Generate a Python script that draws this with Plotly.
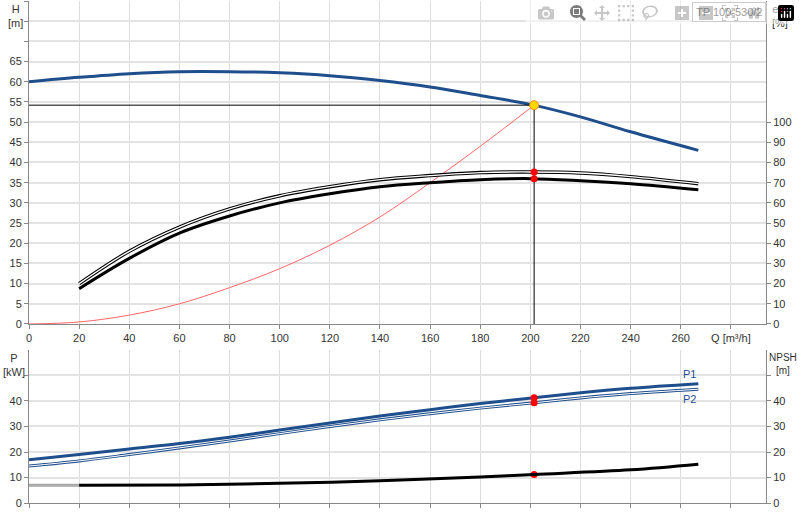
import plotly.graph_objects as go

Q_H = [0, 20, 40, 60, 80, 100, 120, 140, 160, 180, 200, 220, 240, 267]
H = [60, 61.1, 62, 62.5, 62.5, 62.2, 61.5, 60.3, 58.7, 56.6, 54.4, 51.3, 47.6, 43]
Q_eta = [20, 40, 60, 80, 100, 120, 140, 160, 180, 200, 220, 240, 267]
eta_up = [20, 36, 48, 57, 63.5, 68, 71.5, 73.5, 75, 75.3, 74.8, 73, 69.5]
eta_lo = [17.5, 32.5, 45, 53.5, 60, 64.5, 68, 70, 71.5, 72, 71, 69.5, 66.5]
Q_sys = [0, 20, 40, 60, 80, 100, 120, 140, 160, 180, 201.5]
H_sys = [0, 0.5, 2.2, 5, 9, 13.7, 19.5, 26.5, 35, 44, 54.2]
Q_P = [0, 20, 40, 60, 80, 100, 120, 140, 160, 180, 201.5, 220, 240, 267]
P1 = [17, 19, 21.2, 23.3, 25.8, 28.6, 31.4, 34.1, 36.6, 39, 41.3, 43.2, 45, 46.8]
P2 = [14.5, 16.5, 19, 21.6, 24.3, 27.2, 30, 32.6, 35, 37.2, 39.3, 41.2, 42.9, 44.6]
Q_N = [20, 60, 100, 140, 180, 201.5, 240, 267]
NPSH = [7, 7.1, 7.7, 8.7, 10.2, 11.2, 13, 15.2]
Q_duty, H_duty = 201.5, 54.2
eta_duty = [75.3, 72]
P_duty = [41.3, 39.3]
NPSH_duty = 11.2
x_ticks = list(range(0, 281, 20))
x_text = [str(v) for v in range(0, 261, 20)] + ["Q [m³/h]"]

blue = "#1f4e8c"
fig = go.Figure()
# top
fig.add_trace(go.Scatter(x=Q_H, y=H, mode="lines", line=dict(color=blue, width=3, shape="spline"), xaxis="x", yaxis="y"))
fig.add_trace(go.Scatter(x=Q_sys, y=H_sys, mode="lines", line=dict(color="#ff6666", width=1, shape="spline"), xaxis="x", yaxis="y"))
fig.add_trace(go.Scatter(x=[0, Q_duty, Q_duty], y=[H_duty, H_duty, 0], mode="lines", line=dict(color="black", width=1), xaxis="x", yaxis="y"))
fig.add_trace(go.Scatter(x=Q_eta, y=eta_up, mode="lines", line=dict(color="black", width=3.5, shape="spline"), xaxis="x", yaxis="y2"))
fig.add_trace(go.Scatter(x=Q_eta, y=eta_up, mode="lines", line=dict(color="white", width=1.3, shape="spline"), xaxis="x", yaxis="y2"))
fig.add_trace(go.Scatter(x=Q_eta, y=eta_lo, mode="lines", line=dict(color="black", width=3, shape="spline"), xaxis="x", yaxis="y2"))
fig.add_trace(go.Scatter(x=[Q_duty, Q_duty], y=eta_duty, mode="markers", marker=dict(color="red", size=7), xaxis="x", yaxis="y2"))
fig.add_trace(go.Scatter(x=[Q_duty], y=[H_duty], mode="markers", marker=dict(color="#ffd700", size=9, line=dict(color="#ff8c00", width=1)), xaxis="x", yaxis="y"))
# bottom
fig.add_trace(go.Scatter(x=Q_P, y=P1, mode="lines", line=dict(color=blue, width=3, shape="spline"), xaxis="x2", yaxis="y3"))
fig.add_trace(go.Scatter(x=Q_P, y=P2, mode="lines", line=dict(color=blue, width=3, shape="spline"), xaxis="x2", yaxis="y3"))
fig.add_trace(go.Scatter(x=Q_P, y=P2, mode="lines", line=dict(color="white", width=1, shape="spline"), xaxis="x2", yaxis="y3"))
fig.add_trace(go.Scatter(x=[0, Q_N[0]], y=[NPSH[0], NPSH[0]], mode="lines", line=dict(color="#aaaaaa", width=3), xaxis="x2", yaxis="y4"))
fig.add_trace(go.Scatter(x=Q_N, y=NPSH, mode="lines", line=dict(color="black", width=3, shape="spline"), xaxis="x2", yaxis="y4"))
fig.add_trace(go.Scatter(x=[Q_duty, Q_duty, Q_duty], y=P_duty + [NPSH_duty], mode="markers", marker=dict(color="red", size=7), xaxis="x2", yaxis="y3"))

grid = dict(showgrid=True, gridcolor="#dcdcdc", zeroline=False, ticks="outside", ticklen=4, tickcolor="#888",
            linecolor="#888", showline=True, tickfont=dict(family="Liberation Sans", size=11, color="#333"))
hgrid = dict(grid, gridwidth=2, gridcolor="#e3e3e3")
fig.update_layout(
    width=800, height=520, showlegend=False, plot_bgcolor="white", paper_bgcolor="white",
    margin=dict(l=29, r=34, t=1, b=17, autoexpand=False),
    xaxis=dict(grid, domain=[0, 1], range=[0, 294], tickvals=x_ticks, ticktext=x_text, anchor="y"),
    yaxis=dict(hgrid, domain=[0.3566, 1], range=[0, 80], tickvals=list(range(0, 81, 5)),
               ticktext=[str(v) if v <= 65 else "" for v in range(0, 81, 5)]),
    yaxis2=dict(grid, overlaying="y", side="right", range=[0, 160], tickvals=list(range(0, 101, 10)), showgrid=False, anchor="x"),
    xaxis2=dict(grid, domain=[0, 1], range=[0, 294], tickvals=x_ticks, showticklabels=False, anchor="y3"),
    yaxis3=dict(hgrid, domain=[0, 0.3048], range=[0, 60], tickvals=[0, 10, 20, 30, 40, 50],
                ticktext=["0", "10", "20", "30", "40", ""], anchor="x2"),
    yaxis4=dict(grid, overlaying="y3", side="right", range=[0, 60], tickvals=[0, 10, 20, 30, 40, 50],
                ticktext=["0", "10", "20", "30", "40", ""], showgrid=False, anchor="x2"),
)
f = dict(family="Liberation Sans", size=11, color="#333")
anns = [
    dict(x=0, y=1, xref="paper", yref="paper", text="H<br>[m]", showarrow=False, xanchor="right", yanchor="top", xshift=-4, font=f),
    dict(x=1, y=1, xref="paper", yref="paper", text="eta<br>[%]", showarrow=False, xanchor="left", yanchor="top", xshift=4, font=f),
    dict(x=1, y=0.998, xref="paper", yref="paper", text="TP 100-530/2", showarrow=False, xanchor="right", yanchor="top",
         bordercolor="#999", borderwidth=1, bgcolor="white", font=f, borderpad=3),
    dict(x=0, y=0.3048, xref="paper", yref="paper", text="P<br>[kW]", showarrow=False, xanchor="right", yanchor="top", xshift=-2, font=f),
    dict(x=1, y=0.3048, xref="paper", yref="paper", text="NPSH<br>[m]", showarrow=False, xanchor="left", yanchor="top", xshift=1, font=dict(f, size=10)),
    dict(x=267, y=P1[-1], xref="x2", yref="y3", text="P1", showarrow=False, xanchor="right", yanchor="bottom", yshift=2, font=dict(f, color=blue)),
    dict(x=267, y=P2[-1], xref="x2", yref="y3", text="P2", showarrow=False, xanchor="right", yanchor="top", yshift=-2, font=dict(f, color=blue)),
]
fig.update_layout(annotations=anns)
fig.write_html("out.html", post_script="document.body.style.margin='0';document.body.style.overflow='hidden';")
